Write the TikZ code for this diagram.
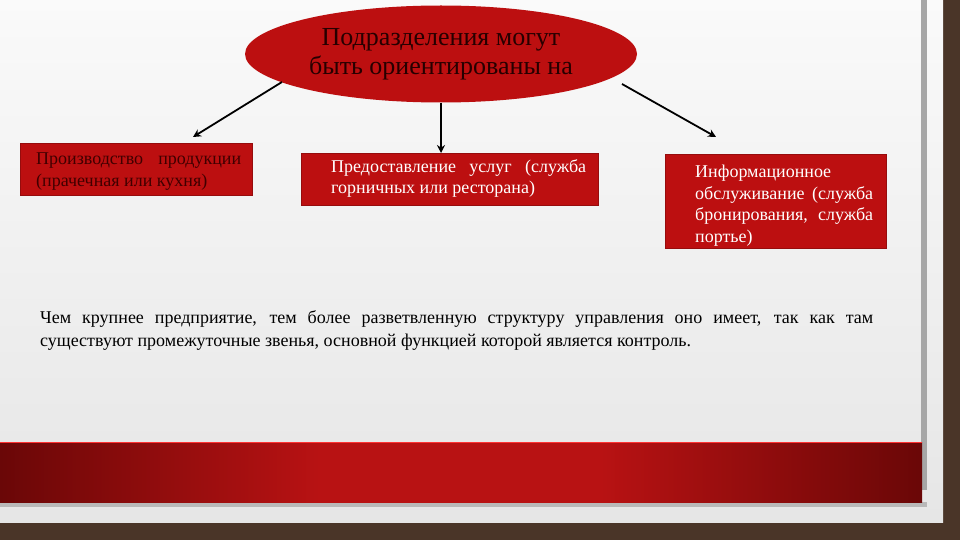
\documentclass[tikz,border=0pt]{standalone}
\usepackage{fontspec}
\setmainfont{Liberation Serif}
\usetikzlibrary{shapes.geometric,arrows.meta}
\definecolor{brick}{HTML}{4A3528}
\definecolor{panel}{HTML}{E6E6E6}
\definecolor{boxred}{HTML}{BC0F10}
\definecolor{darkred}{HTML}{6A0707}
\definecolor{midred}{HTML}{B81213}
\tikzset{
  boxnode/.style={draw=boxred!80!black, line width=0.6pt, fill=boxred, inner sep=0pt, anchor=north west},
  boxtext/.style={align=justify, inner sep=0pt, anchor=north west, font=\fontsize{18}{21.5}\selectfont},
  conn/.style={line width=1.8pt, -{Stealth[length=8pt,width=8pt]}}
}
\begin{document}
\begin{tikzpicture}[x=1pt,y=-1pt]
\useasboundingbox (0,0) rectangle (960,540);
% background
\fill[brick] (0,0) rectangle (960,540);
\shade[top color=white!96!gray, bottom color=panel] (0,0) rectangle (943,522);
\fill[gray!70] (921,0) rectangle (927,490);
\fill[gray!55] (0,502) rectangle (927,507);
% red band
\begin{scope}
\clip (0,442) rectangle (922,502);
\fill[midred] (0,440) rectangle (922,504);
\shade[left color=darkred, right color=midred] (0,440) rectangle (320,504);
\shade[left color=midred, right color=darkred] (600,440) rectangle (922,504);
\end{scope}
\draw[red!80!white, line width=0.8pt] (0,442.5) -- (922,442.5);
% ellipse
\node[ellipse, fill=boxred, minimum width=392pt, minimum height=97pt, inner sep=0pt,
      align=center, font=\fontsize{26}{29}\selectfont, text=black!85!red] (top) at (441,54)
  {Подразделения могут\\быть ориентированы на};
% boxes
\node[boxnode, minimum width=232pt, minimum height=52pt] (b1) at (20,143) {};
\node[boxtext, text width=205pt, text=black!75!red] (t1) at (36,153)
  {Производство\hfill продукции\\(прачечная или кухня)};
\node[boxnode, minimum width=297pt, minimum height=52pt] (b2) at (301,153) {};
\node[boxtext, text width=255pt, text=white] (t2) at (331,159)
  {Предоставление\hfill услуг\hfill (служба\\горничных или ресторана)};
\node[boxnode, minimum width=221pt, minimum height=94pt] (b3) at (665,154) {};
\node[boxtext, text width=178pt, text=white] (t3) at (695,165)
  {Информационное\\обслуживание\hfill(служба\\бронирования,\hfill служба\\портье)};
% arrows
\coordinate (s1) at (282,82);
\coordinate (s3) at (622,84);
\coordinate (e1) at (193,137);
\coordinate (e3) at (716,137);
\draw[conn] (s1) -- (e1);
\draw[conn] (top.south) -- (b2.north -| top.south);
\draw[conn] (s3) -- (e3);
% paragraph
\node[anchor=north west, text width=833pt, align=justify, inner sep=0pt,
      font=\fontsize{18}{23}\selectfont] (para) at (40,310)
  {Чем крупнее предприятие, тем более разветвленную структуру управления оно имеет, так как там\linebreak существуют промежуточные звенья, основной функцией которой является контроль.};
\end{tikzpicture}
\end{document}
